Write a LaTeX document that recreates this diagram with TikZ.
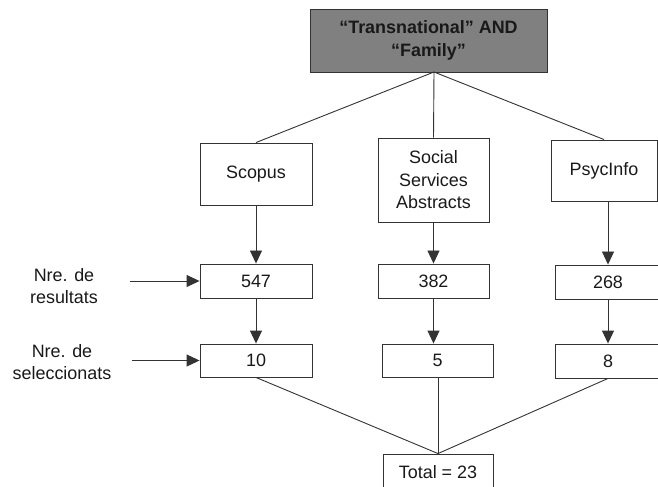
\documentclass[tikz,border=0pt]{standalone}
\usepackage{fontspec}
\setmainfont{Liberation Sans}
\usetikzlibrary{arrows.meta,positioning}
\tikzset{
  % boxes of the search flow
  block/.style={draw=black!80, rectangle, line width=0.9bp, text=black!90,
  align=center, inner sep=0pt, font=\fontsize{18}{22.5}\selectfont},
  query/.style={block, fill=gray, font=\bfseries\fontsize{18}{22.5}\selectfont},
  side/.style={align=center, inner sep=0pt, text=black!90, font=\fontsize{18}{22.5}\selectfont},
  link/.style={draw=black!80, line width=0.9bp},
  flow/.style={link, -{Triangle[length=13bp,width=12bp]}}}
\begin{document}
\begin{tikzpicture}[x=1bp, y=-1bp]
\path[use as bounding box, clip] (0,0) rectangle (658,487);

\draw (428.5,40.5) node (query) [query, minimum width=237bp, minimum height=63bp] {``Transnational'' AND\\``Family''};
\coordinate (qjoin) at (434,72);

\draw (256,174) node (scopus) [block, minimum width=112bp, minimum height=62bp] {Scopus};
\draw (433.5,180) node (social) [block, minimum width=111bp, minimum height=84bp] {Social\\Services\\Abstracts};
\draw (604,170.5) node (psyc) [block, minimum width=106bp, minimum height=61bp] {PsycInfo};

\draw (256,281) node (r547) [block, minimum width=112bp, minimum height=34bp] {547};
\draw (433.5,281) node (r382) [block, minimum width=111bp, minimum height=34bp] {382};
\draw (608,282) node (r268) [block, minimum width=106bp, minimum height=34bp] {268};

\draw (256,360.5) node (s10) [block, minimum width=112bp, minimum height=33bp] {10};
\draw (437.5,360.5) node (s5) [block, minimum width=111bp, minimum height=33bp] {5};
\draw (608,361) node (s8) [block, minimum width=106bp, minimum height=34bp] {8};

\draw (438,472) node (total) [block, minimum width=110bp, minimum height=36bp] {Total = 23};

\draw (64,286) node (lres) [side] {Nre. de\\resultats};
\draw (62,362) node (lsel) [side] {Nre. de\\seleccionats};
\coordinate[left=70bp of r547.west] (rin);
\coordinate[left=68bp of s10.west] (sin);

\draw [link] (qjoin) -- (scopus.north);
\draw [link] (qjoin) -- (social.north);
\draw [link] (qjoin) -- (psyc.north);

\draw [flow] (scopus.south) -- (r547.north);
\draw [flow] (social.south -| r382.north) -- (r382.north);
\draw [flow] (psyc.south -| r268.north) -- (r268.north);

\draw [flow] (r547.south) -- (s10.north);
\draw [flow] (r382.south) -- (r382.south |- s5.north);
\draw [flow] (r268.south) -- (s8.north);

\draw [flow] (rin) -- (r547.west);
\draw [flow] (sin) -- (s10.west);

\draw [link] (s10.south) -- (total.north);
\draw [link] (s5.south -| total.north) -- (total.north);
\draw [link] (s8.south) -- (total.north);

\end{tikzpicture}
\end{document}
